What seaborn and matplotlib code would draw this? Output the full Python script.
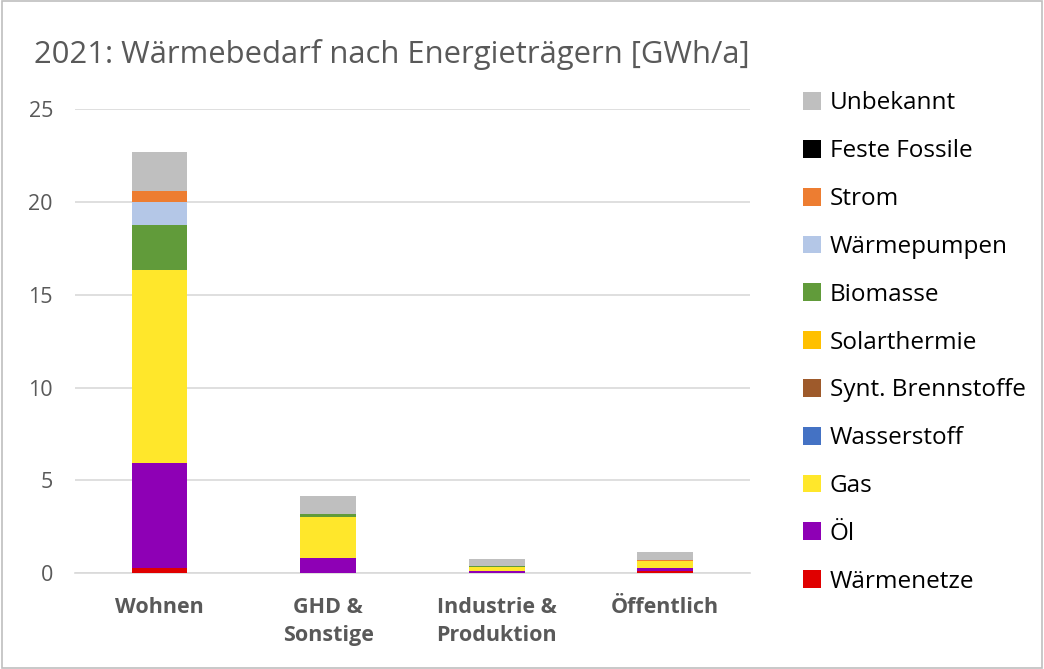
import numpy as np
import pandas as pd
import matplotlib.pyplot as plt
from matplotlib.patches import Patch, Rectangle
import seaborn as sns

# Data (GWh/a)
categories = ['Wohnen', 'GHD &\nSonstige', 'Industrie &\nProduktion', 'Öffentlich']
carriers = ['Wärmenetze', 'Öl', 'Gas', 'Wasserstoff', 'Synt. Brennstoffe',
            'Solarthermie', 'Biomasse', 'Wärmepumpen', 'Strom', 'Feste Fossile',
            'Unbekannt']
waermenetze = [0.30, 0.00, 0.00, 0.12]
oel = [5.65, 0.82, 0.12, 0.15]
gas = [10.38, 2.23, 0.24, 0.39]
wasserstoff = [0.0, 0.0, 0.0, 0.0]
synt = [0.0, 0.0, 0.0, 0.0]
solar = [0.0, 0.0, 0.0, 0.0]
biomasse = [2.45, 0.16, 0.01, 0.0]
waermepumpen = [1.22, 0.0, 0.0, 0.0]
strom = [0.60, 0.0, 0.02, 0.04]
feste = [0.0, 0.0, 0.0, 0.0]
unbekannt = [2.10, 0.97, 0.39, 0.45]

colors = ['#E00000', '#8E00B5', '#FFE72B', '#4472C4', '#9E5A2B',
          '#FFC000', '#619B3A', '#B4C7E7', '#ED7D31', '#000000', '#BFBFBF']

series = [waermenetze, oel, gas, wasserstoff, synt, solar, biomasse,
          waermepumpen, strom, feste, unbekannt]
df = pd.DataFrame(np.array(series).T, columns=carriers)
df['Kategorie'] = categories
cum = df[carriers].cumsum(axis=1)

sns.set_style('white')
plt.rcParams['font.family'] = ['Open Sans', 'DejaVu Sans']

fig = plt.figure(figsize=(10.44, 6.69), dpi=100)
ax = fig.add_axes([0.072, 0.143, 0.646, 0.694])

# stacked bars: draw cumulative totals from top layer down
for name, color in reversed(list(zip(carriers, colors))):
    sns.barplot(x=df['Kategorie'], y=cum[name], color=color, width=0.33,
                saturation=1, ax=ax, zorder=3, edgecolor='none')

ax.set_ylim(0, 25)
ax.set_xlim(-0.5, 3.5)
ax.set_yticks([0, 5, 10, 15, 20, 25])
ax.yaxis.grid(True, color='#D9D9D9', linewidth=1.2, zorder=0)
ax.set_axisbelow(True)
for s in ['top', 'right', 'left']:
    ax.spines[s].set_visible(False)
ax.spines['bottom'].set_color('#D9D9D9')
ax.spines['bottom'].set_linewidth(1.2)
ax.tick_params(axis='both', length=0, colors='#595959', labelsize=15.5)
ax.tick_params(axis='y', pad=16)
ax.tick_params(axis='x', pad=17)
for lbl in ax.get_xticklabels():
    lbl.set_fontweight('bold')
    lbl.set_linespacing(1.45)
ax.set_xlabel('')
ax.set_ylabel('')

fig.text(0.033, 0.918, '2021: Wärmebedarf nach Energieträgern [GWh/a]',
         fontsize=22.3, color='#595959', va='center', ha='left')

handles = [Patch(facecolor=c, edgecolor='none', label=n)
           for n, c in zip(carriers, colors)][::-1]
fig.legend(handles=handles, loc='upper left', bbox_to_anchor=(0.748, 0.896),
           frameon=False, fontsize=17.5, labelspacing=0.98, handlelength=0.75,
           handleheight=0.75, handletextpad=0.35, labelcolor='#000000')

fig.patches.append(Rectangle((0.002, 0.002), 0.996, 0.996, transform=fig.transFigure,
                             fill=False, edgecolor='#BFBFBF', linewidth=1.2))

plt.savefig('out.png', dpi=100)
